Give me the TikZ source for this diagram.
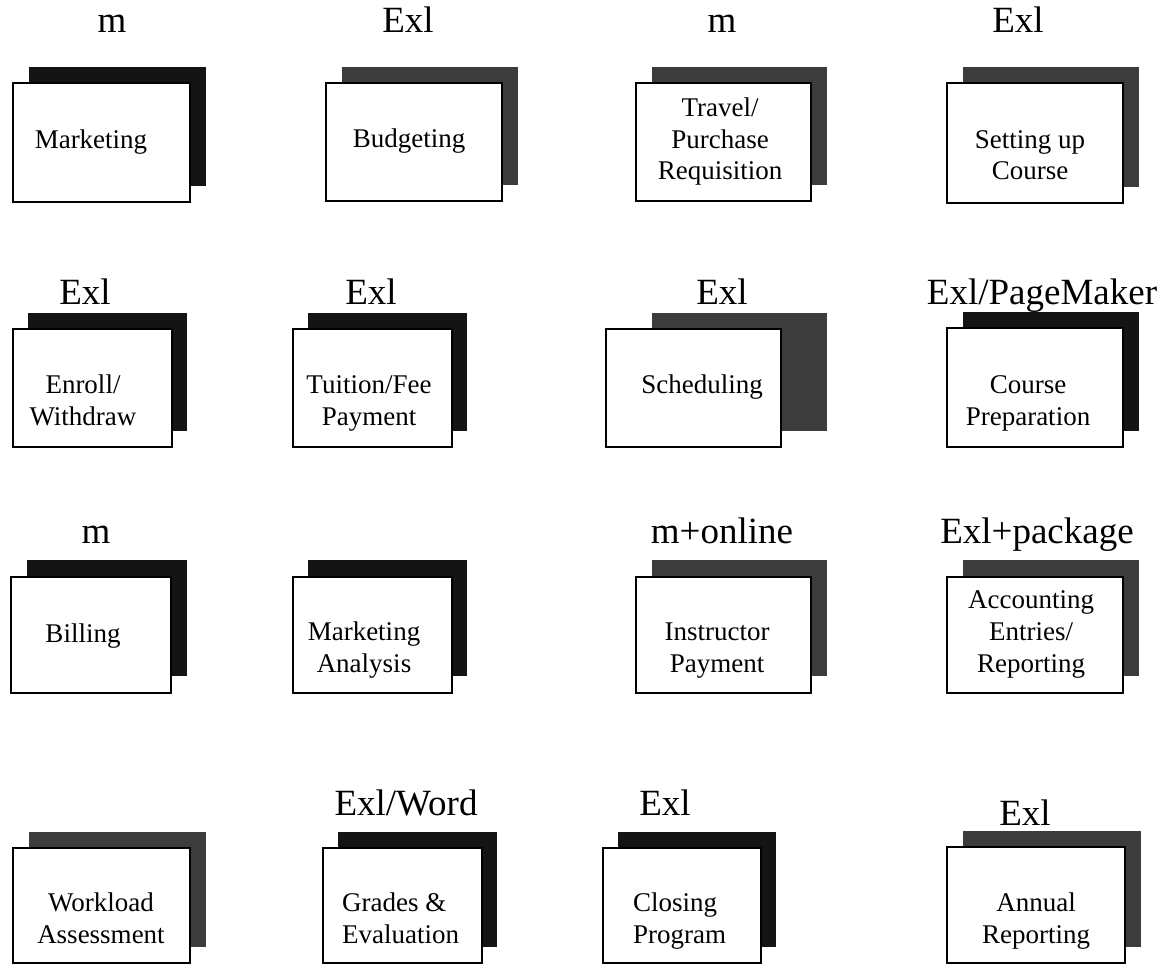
\documentclass[tikz,border=0pt]{standalone}
\usepackage{fontspec}
\setmainfont{Liberation Serif}
\usetikzlibrary{backgrounds}
\definecolor{deepshade}{HTML}{141414}
\definecolor{midshade}{HTML}{3C3C3C}
\tikzset{
  frontbox/.style={draw=black, line width=1.8pt, fill=white, inner sep=0pt, outer sep=0pt},
  toolname/.style={font=\fontsize{37}{40}\selectfont, inner sep=0pt, anchor=base},
  taskname/.style={font=\fontsize{27}{31.6}\selectfont, inner sep=0pt, anchor=base, align=center},
}
% a task card: white front box with a solid shadow box behind it,
% the shadow shifted by (#7,#8)
\newcommand\taskcard[8]{%
  \node[frontbox, minimum width=#4pt, minimum height=#5pt] (#1) at (#2,#3) {};
  \begin{pgfonlayer}{background}
    \fill[#6] ([shift={(#7,-#8)}]#1.south west) rectangle ([shift={(#7,-#8)}]#1.north east);
  \end{pgfonlayer}}
\begin{document}
\begin{tikzpicture}[x=1pt, y=-1pt]
\useasboundingbox (0,0) rectangle (1174,965);

% row 1
\taskcard{c11}{101.5}{142.5}{177}{119}{deepshade}{16}{16}
\taskcard{c12}{414}{142}{176}{118}{midshade}{16}{16}
\taskcard{c13}{723.5}{142}{175}{118}{midshade}{16}{16}
\taskcard{c14}{1035}{143}{176}{120}{midshade}{16}{16}
% row 2
\taskcard{c21}{92.5}{388}{159}{118}{deepshade}{15}{16}
\taskcard{c22}{372.5}{388}{159}{118}{deepshade}{15}{16}
\taskcard{c23}{693.5}{388}{175}{118}{midshade}{46}{16}
\taskcard{c24}{1035}{387.5}{176}{119}{deepshade}{16}{16}
% row 3
\taskcard{c31}{91}{635}{160}{116}{deepshade}{16}{17}
\taskcard{c32}{372.5}{635}{159}{116}{deepshade}{15}{17}
\taskcard{c33}{723.5}{635}{175}{116}{midshade}{16}{17}
\taskcard{c34}{1035}{635}{176}{116}{midshade}{16}{17}
% row 4
\taskcard{c41}{101.5}{905.5}{177}{115}{midshade}{16}{16}
\taskcard{c42}{402.5}{905.5}{159}{115}{deepshade}{15}{16}
\taskcard{c43}{682}{905.5}{158}{115}{deepshade}{15}{16}
\taskcard{c44}{1036}{905}{178}{116}{midshade}{16}{16}

% tools used for each task
\node[toolname] (t11) at (112,33) {m};
\node[toolname] (t12) at (408,33) {Exl};
\node[toolname] (t13) at (722,33) {m};
\node[toolname] (t14) at (1018,33) {Exl};
\node[toolname] (t21) at (85,305) {Exl};
\node[toolname] (t22) at (371,305) {Exl};
\node[toolname] (t23) at (722,305) {Exl};
\node[toolname] (t24) at (1042,305) {Exl/PageMaker};
\node[toolname] (t31) at (96,543) {m};
\node[toolname] (t33) at (722,543) {m+online};
\node[toolname] (t34) at (1037,543) {Exl+package};
\node[toolname] (t42) at (406,815) {Exl/Word};
\node[toolname] (t43) at (665,815) {Exl};
\node[toolname] (t44) at (1025,825) {Exl};

% task names (base = baseline of the last line)
\node[taskname] (n11) at (91,149) {Marketing};
\node[taskname] (n12) at (409,148) {Budgeting};
\node[taskname] (n13) at (720,180) {Travel/\\Purchase\\Requisition};
\node[taskname] (n14) at (1030,180) {Setting up\\Course};
\node[taskname] (n21) at (83,425) {Enroll/\\Withdraw};
\node[taskname] (n22) at (369,425) {Tuition/Fee\\Payment};
\node[taskname] (n23) at (702,393) {Scheduling};
\node[taskname] (n24) at (1028,425) {Course\\Preparation};
\node[taskname] (n31) at (83,642) {Billing};
\node[taskname] (n32) at (364,672) {Marketing\\Analysis};
\node[taskname] (n33) at (717,672) {Instructor\\Payment};
\node[taskname] (n34) at (1031,672) {Accounting\\Entries/\\Reporting};
\node[taskname] (n41) at (101,943) {Workload\\Assessment};
\node[taskname, align=left, anchor=base west] (n42) at (342,943) {Grades \&\\Evaluation};
\node[taskname, align=left, anchor=base west] (n43) at (633,943) {Closing\\Program};
\node[taskname] (n44) at (1036,943) {Annual\\Reporting};
\end{tikzpicture}
\end{document}
